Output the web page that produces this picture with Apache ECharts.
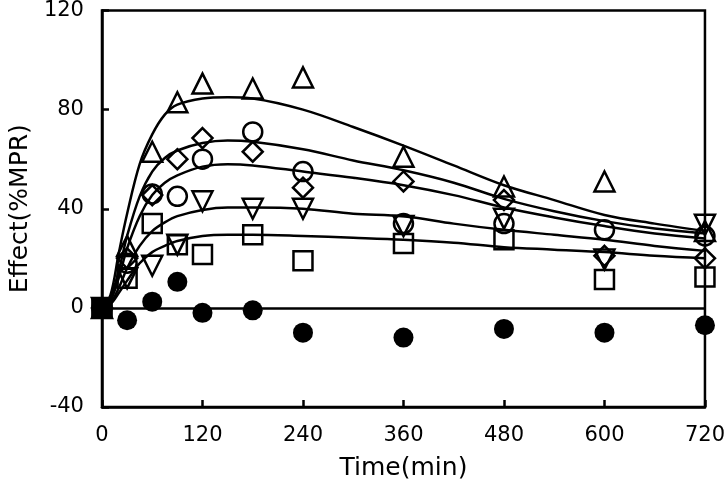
<!DOCTYPE html>
<html><head><meta charset="utf-8">
<script src="https://cdn.jsdelivr.net/npm/echarts@6/dist/echarts.min.js"></script>
<style>html,body{margin:0;padding:0;background:#fff}#c{width:728px;height:486px}</style>
</head><body><div id="c"></div>
<script>
// Observation times (min)
var times = [0, 30, 60, 90, 120, 180, 240, 360, 480, 600, 720];
// Observed effects (%MPR)
var triUp   = [0, 25, 63, 83, 90.5, 88.5, 93, 61, 49, 51, 31];
var diamond = [0, 20, 45.5, 60, 68.5, 63, 48.5, 51, 43.5, 21, 20];
var circle  = [0, 18, 46, 45, 60, 71, 55, 34, 34, 31.5, 29];
var triDown = [0, 12, 17, 25.5, 43, 40, 40, 33, 36, 19.5, 33.5];
var square  = [0, 12, 34, 25.5, 21.5, 29.5, 19, 26, 27.5, 11.5, 12.5];
var filledCircle = [null, -5, 2.5, 10.5, -2, -1, -10, -12, -8.5, -10, -7];
var filledSquare = [[0, 0]];
// Fitted curves at these times
var curveTimes = [0, 10, 20, 30, 45, 60, 75, 90, 120, 150, 180, 240, 300, 360, 420, 480, 540, 600, 660, 720];
var fitTriUp   = [0, 5, 22, 38, 58, 70, 78, 82, 84.5, 85, 84.5, 80, 73, 65.5, 57.5, 49.5, 43.5, 37.5, 34, 31];
var fitDiamond = [0, 4, 15, 29, 45, 55, 60.5, 63.5, 66.5, 67.5, 67, 64, 59.5, 55.5, 50.5, 44, 39, 35, 32, 30];
var fitCircle  = [0, 3, 12, 24, 37, 45.5, 50.5, 53.5, 57, 58, 57.5, 55, 52.5, 49.5, 45.5, 40.5, 36.5, 33, 30, 28];
var fitTriDown = [0, 2, 8, 16, 25, 31, 34.5, 37, 39.5, 40.5, 40.5, 40, 38, 37, 34, 31.5, 29.5, 27.5, 25, 23];
var fitSquare  = [0, 1.5, 6, 11, 18, 22.5, 25, 27, 29, 29.5, 29.5, 29, 28.3, 27.5, 26.3, 24.5, 23.5, 22.5, 21, 20];
var xTicks = [0, 120, 240, 360, 480, 600, 720];
var yTicks = [-40, 0, 40, 80, 120];

function pts(xs, ys) { var o = []; for (var i = 0; i < xs.length; i++) if (ys[i] !== null) o.push([xs[i], ys[i]]); return o; }

var FONT = 'DejaVu Sans';
function curve(d) {
  return { type: 'line', data: pts(curveTimes, d), smooth: 0.35, showSymbol: false, symbol: 'none',
    lineStyle: { color: '#000', width: 2.5 }, z: 2, silent: true };
}
function marks(d, sym, size, rot, filled) {
  return { type: 'scatter', data: pts(times, d), symbol: sym, symbolSize: size, symbolRotate: rot || 0,
    itemStyle: filled ? { color: '#000', opacity: 1 } : { color: 'rgba(0,0,0,0)', borderColor: '#000', borderWidth: 2.5, opacity: 1 }, z: 3 };
}

var chart = echarts.init(document.getElementById('c'), null, { renderer: 'canvas' });
var fc = marks(filledCircle, 'circle', 20, 0, true);
fc.markLine = { silent: true, symbol: 'none', label: { show: false }, lineStyle: { color: '#000', width: 2.5, type: 'solid', opacity: 1 }, data: [{ yAxis: 0 }] };
chart.setOption({
  animation: false,
  backgroundColor: '#fff',
  grid: { left: 100, right: 21, top: 7, bottom: 79, show: true, borderColor: '#000', borderWidth: 2.5 },
  xAxis: {
    type: 'value', min: xTicks[0], max: xTicks[xTicks.length - 1], interval: 120,
    name: 'Time(min)', nameLocation: 'middle', nameGap: 49,
    nameTextStyle: { fontFamily: FONT, fontSize: 25, color: '#000' },
    axisLine: { show: true, onZero: false, lineStyle: { color: '#000', width: 2.5 } },
    axisTick: { show: true, inside: true, length: 7, lineStyle: { color: '#000', width: 2.5 } },
    axisLabel: { fontFamily: FONT, fontSize: 21, color: '#000', margin: 18 },
    splitLine: { show: false }
  },
  yAxis: {
    type: 'value', min: yTicks[0], max: yTicks[yTicks.length - 1], interval: 40,
    name: 'Effect(%MPR)', nameLocation: 'middle', nameGap: 68,
    nameTextStyle: { fontFamily: FONT, fontSize: 25, color: '#000' },
    axisLine: { show: true, lineStyle: { color: '#000', width: 2.5 } },
    axisTick: { show: true, inside: true, length: 7, lineStyle: { color: '#000', width: 2.5 } },
    axisLabel: { fontFamily: FONT, fontSize: 21, color: '#000', margin: 18, padding: [10, 0, 0, 0] },
    splitLine: { show: false }
  },
  series: [
    curve(fitTriUp), curve(fitDiamond), curve(fitCircle), curve(fitTriDown), curve(fitSquare),
    marks(triUp, 'triangle', 20, 0, false),
    marks(diamond, 'diamond', 20, 0, false),
    marks(circle, 'circle', 19, 0, false),
    marks(triDown, 'triangle', 20, 180, false),
    marks(square, 'rect', 19, 0, false),
    fc,
    { type: 'scatter', data: filledSquare, symbol: 'rect', symbolSize: 21, itemStyle: { color: '#000', opacity: 1 }, z: 4 }
  ]
});
</script></body></html>
